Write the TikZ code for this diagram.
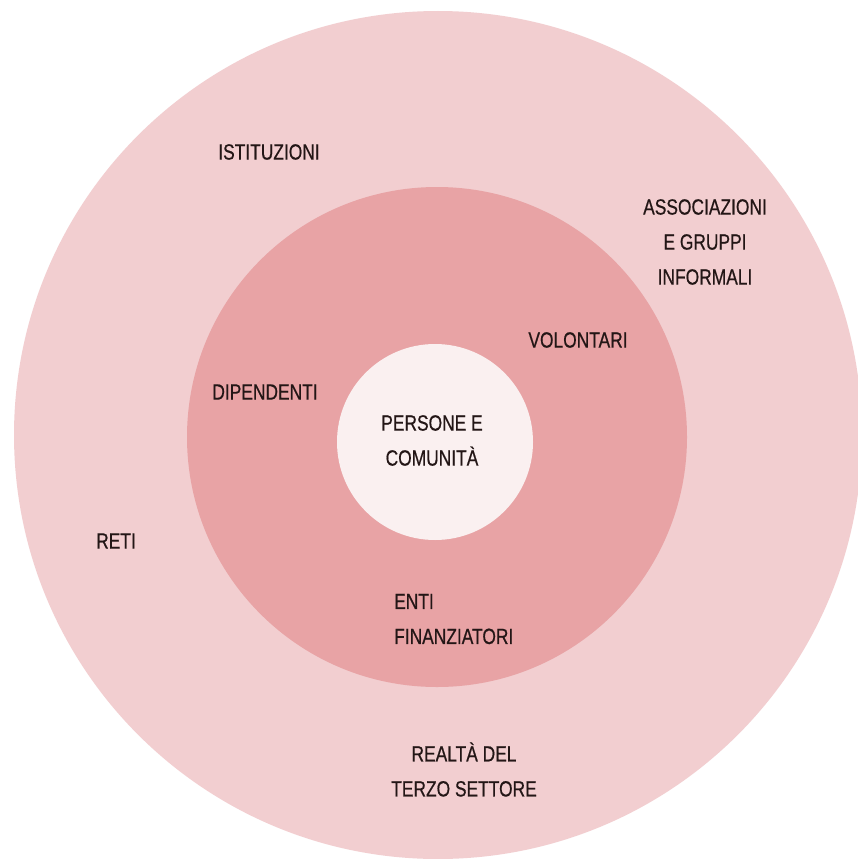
\documentclass[tikz,border=0pt]{standalone}
\usepackage{fontspec}
\setmainfont[FakeStretch=0.79,FakeBold=0.6]{Liberation Sans}
\definecolor{outerc}{HTML}{F2CED0}
\definecolor{midc}{HTML}{E8A3A5}
\definecolor{innerc}{HTML}{FAF0F0}
\definecolor{txtc}{HTML}{231616}
\begin{document}
\begin{tikzpicture}[x=1pt,y=-1pt,
  ring/.style={circle,draw=none,inner sep=0pt},
  lbl/.style={text=txtc,font=\fontsize{22}{35}\selectfont,inner sep=0pt,align=center}]
\useasboundingbox[fill=white] (0,0) rectangle (857,859);
\node[ring,fill=outerc,minimum size=848pt] (outer) at (438,435) {};
\node[ring,fill=midc,minimum size=500pt] (middle) at (437,437) {};
\node[ring,fill=innerc,minimum size=196pt] (inner) at (435,442) {};
\node[lbl] (ist) at (269,152) {ISTITUZIONI};
\node[lbl] (ass) at (705,242) {ASSOCIAZIONI\\E GRUPPI\\INFORMALI};
\node[lbl] (vol) at (578,340) {VOLONTARI};
\node[lbl] (dip) at (265,392) {DIPENDENTI};
\node[lbl] (per) at (432,440.5) {PERSONE E\\COMUNITÀ};
\node[lbl] (ret) at (116,541) {RETI};
\node[lbl,align=left,anchor=west] (ent) at (394,619) {ENTI\\FINANZIATORI};
\node[lbl] (rea) at (464,769.5) {REALTÀ DEL\\TERZO SETTORE};
\end{tikzpicture}
\end{document}
